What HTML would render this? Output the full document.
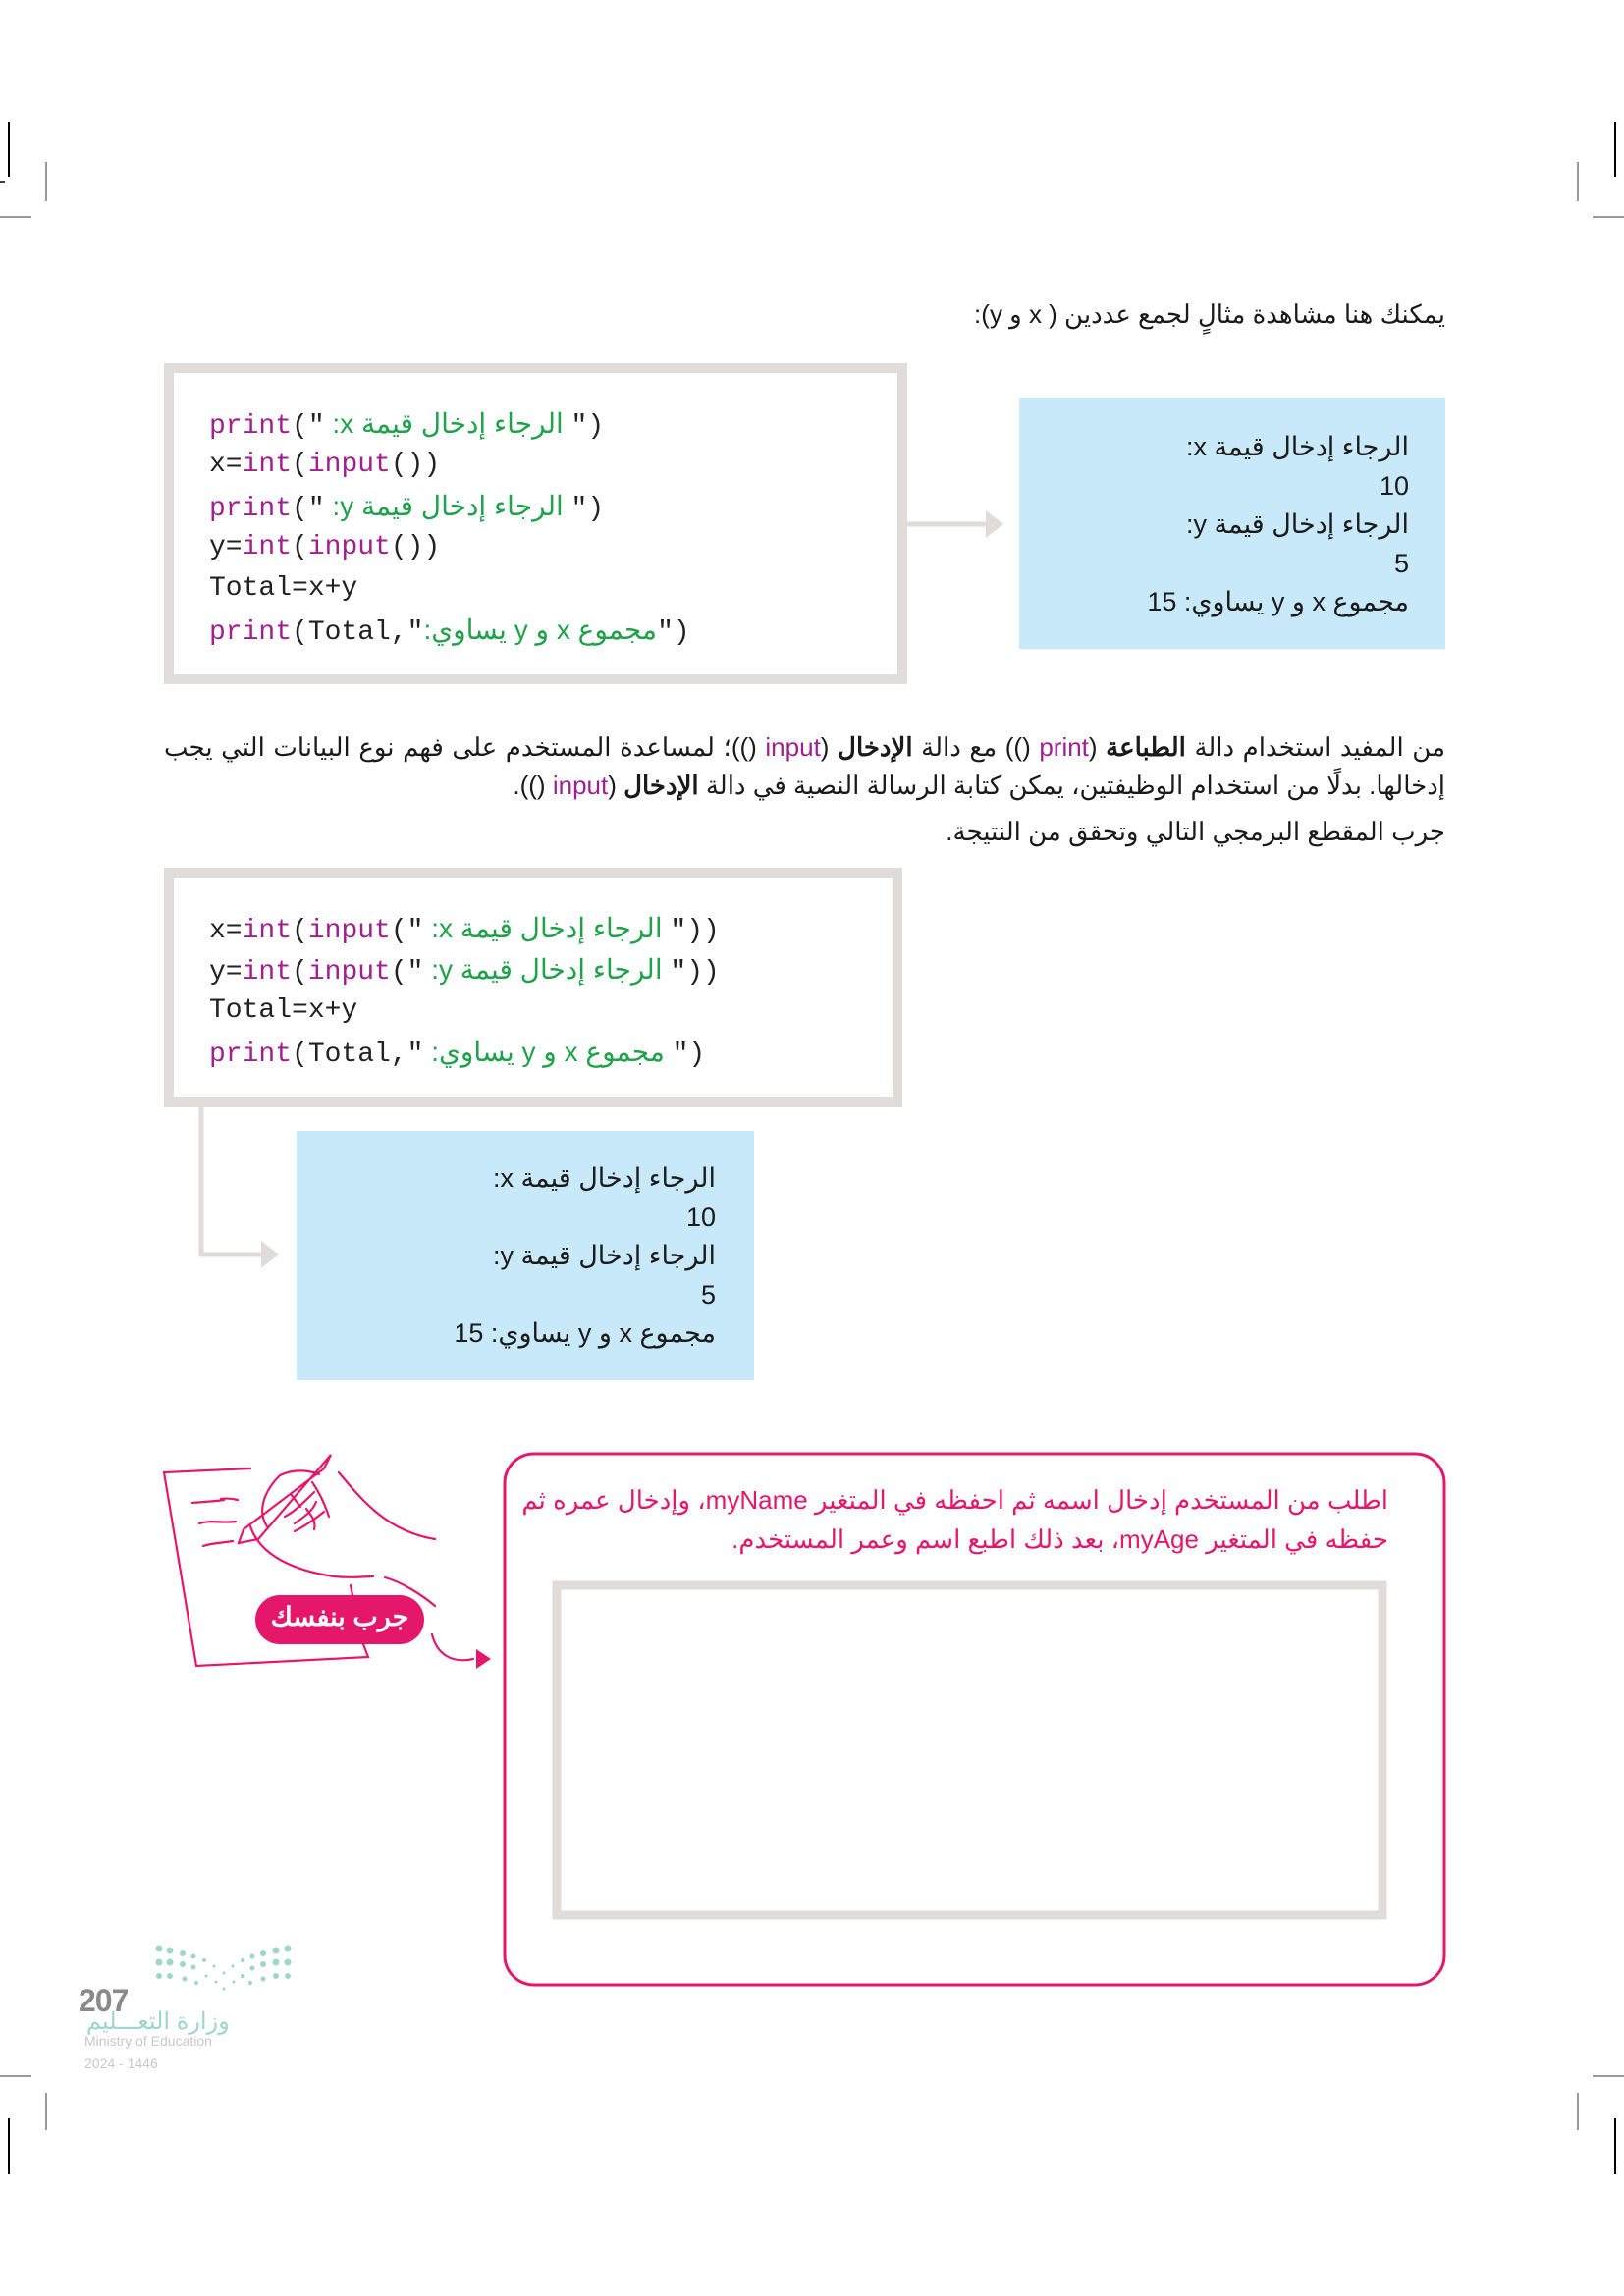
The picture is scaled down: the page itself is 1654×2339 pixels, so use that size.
<!DOCTYPE html>
<html><head><meta charset="utf-8"><style>
body{margin:0;background:#fff}
#p{position:relative;width:1654px;height:2339px;overflow:hidden;font-family:"Liberation Sans","Noto Sans CJK SC",sans-serif}
.t{position:absolute;white-space:nowrap}
.r{direction:rtl;text-align:right}
.code{position:absolute;font-family:"Liberation Mono",monospace;font-size:28px;color:#222}
.code div{height:42px;line-height:42px;overflow:visible;white-space:pre}
.m{color:#a0208f}.g{color:#1fa24a;direction:rtl;unicode-bidi:embed}
.ar{font-family:"Liberation Sans","Noto Sans CJK SC",sans-serif}
.out{position:absolute;direction:rtl;text-align:right;font-size:27px;color:#1a1a1a;line-height:39.5px}
</style></head><body><div id="p">
<svg width="1654" height="2339" style="position:absolute;left:0;top:0">
<line x1="9" y1="124" x2="9" y2="180" stroke="#000" stroke-width="2"/>
<line x1="0" y1="185" x2="5" y2="185" stroke="#000" stroke-width="1.5"/>
<line x1="47" y1="165" x2="47" y2="205" stroke="#999" stroke-width="2"/>
<line x1="0" y1="221" x2="32" y2="221" stroke="#999" stroke-width="2"/>
<line x1="1645" y1="124" x2="1645" y2="180" stroke="#000" stroke-width="2"/>
<line x1="1607" y1="165" x2="1607" y2="205" stroke="#999" stroke-width="2"/>
<line x1="1622" y1="221" x2="1654" y2="221" stroke="#999" stroke-width="2"/>
<line x1="0" y1="2115" x2="32" y2="2115" stroke="#999" stroke-width="2"/>
<line x1="47" y1="2132" x2="47" y2="2170" stroke="#999" stroke-width="2"/>
<line x1="9" y1="2158" x2="9" y2="2215" stroke="#000" stroke-width="2"/>
<line x1="1622" y1="2115" x2="1654" y2="2115" stroke="#999" stroke-width="2"/>
<line x1="1607" y1="2132" x2="1607" y2="2170" stroke="#999" stroke-width="2"/>
<line x1="1645" y1="2158" x2="1645" y2="2215" stroke="#000" stroke-width="2"/>
<rect x="172" y="375" width="747" height="317" fill="#fff" stroke="#e0dcda" stroke-width="10"/>
<line x1="924" y1="534" x2="1008" y2="534" stroke="#e0dcda" stroke-width="5"/>
<polygon points="1004,520 1022,534 1004,548" fill="#e0dcda"/>
<rect x="1038" y="405" width="434" height="256" fill="#c8e9fa"/>
<rect x="172" y="889" width="742" height="234" fill="#fff" stroke="#e0dcda" stroke-width="10"/>
<polyline points="205,1128 205,1278 270,1278" fill="none" stroke="#e0dcda" stroke-width="5"/>
<polygon points="266,1264 284,1278 266,1292" fill="#e0dcda"/>
<rect x="302" y="1152" width="466" height="254" fill="#c8e9fa"/>
<rect x="514" y="1481" width="957" height="541" rx="30" fill="#fff" stroke="#e5176a" stroke-width="3"/>
<rect x="567" y="1615" width="841" height="336" fill="#fff" stroke="#e0dcda" stroke-width="9"/>
<g fill="none" stroke="#e5176a" stroke-width="2.2" stroke-linecap="round">
<polyline points="255,1496 167,1500 200,1697 375,1688 370,1675"/>
<line x1="357" y1="1615" x2="359" y2="1625"/>
<path d="M196,1531 C205,1530 215,1530 228,1528 M225,1527 C232,1526 238,1527 242,1528"/>
<path d="M203,1552 C215,1548 225,1552 240,1550"/>
<path d="M207,1575 C215,1572 225,1572 237,1570"/>
<path d="M337,1482 L263,1568 L243,1572 L248,1558 L330,1496 Z"/>
<path d="M272,1555 C262,1540 268,1520 285,1503 C300,1496 315,1498 325,1502"/>
<path d="M345,1500 C370,1530 395,1560 443,1568"/>
<path d="M255,1555 C265,1585 300,1600 340,1606 C360,1608 370,1606 380,1606"/>
<path d="M392,1607 C410,1612 430,1625 443,1636"/>
<path d="M290,1545 C300,1540 310,1530 320,1520 M300,1552 C310,1545 318,1540 322,1530 M296,1522 L306,1535 M312,1537 C318,1545 322,1550 320,1558"/>
<path d="M300,1560 C310,1555 320,1548 330,1540 M318,1510 C325,1520 330,1530 335,1545"/>
<path d="M440,1665 C445,1685 460,1695 482,1690"/>
</g>
<polygon points="485,1680 500,1690 485,1700" fill="#e5176a"/>
<rect x="260" y="1625" width="172" height="50" rx="25" fill="#e5176a"/>
<g fill="#9fd6cc">
<circle cx="162" cy="1985" r="3.5"/><circle cx="173" cy="1987" r="3.5"/><circle cx="186" cy="1990" r="3"/><circle cx="197" cy="1993" r="2.5"/>
<circle cx="162" cy="1999" r="3.5"/><circle cx="173" cy="1999" r="3.5"/><circle cx="186" cy="2001" r="3"/><circle cx="197" cy="2004" r="2.5"/><circle cx="208" cy="1997" r="2"/><circle cx="218" cy="2003" r="1.5"/>
<circle cx="162" cy="2013" r="3"/><circle cx="173" cy="2013" r="3"/><circle cx="188" cy="2016" r="2.5"/><circle cx="200" cy="2020" r="2"/><circle cx="210" cy="2013" r="1.5"/><circle cx="220" cy="2019" r="1.5"/><circle cx="228" cy="2010" r="1.5"/><circle cx="228" cy="2026" r="1.5"/>
<circle cx="237" cy="2003" r="1.5"/><circle cx="247" cy="1997" r="2"/><circle cx="257" cy="1993" r="2.5"/><circle cx="268" cy="1990" r="3"/><circle cx="281" cy="1987" r="3.5"/><circle cx="293" cy="1985" r="3.5"/>
<circle cx="238" cy="2019" r="1.5"/><circle cx="247" cy="2013" r="2"/><circle cx="257" cy="2005" r="2.5"/><circle cx="268" cy="2001" r="3"/><circle cx="281" cy="1999" r="3.5"/><circle cx="293" cy="1999" r="3.5"/>
<circle cx="255" cy="2020" r="2"/><circle cx="268" cy="2016" r="2.5"/><circle cx="281" cy="2013" r="3"/><circle cx="293" cy="2013" r="3"/>
</g>
</svg>

<div class="t r" style="right:182px;top:305px;font-size:26px;color:#1a1a1a">يمكنك هنا مشاهدة مثالٍ لجمع عددين ( x و y):</div>

<div class="code" style="left:213px;top:411px"><div><span class="m">print</span>("<span class="g ar"> الرجاء إدخال قيمة x: </span>")</div><div>x=<span class="m">int</span>(<span class="m">input</span>())</div><div><span class="m">print</span>("<span class="g ar"> الرجاء إدخال قيمة y: </span>")</div><div>y=<span class="m">int</span>(<span class="m">input</span>())</div><div>Total=x+y</div><div><span class="m">print</span>(Total,"<span class="g ar">مجموع x و y يساوي:</span>")</div></div>

<div class="out" style="right:219px;top:436px">الرجاء إدخال قيمة x:<br>10<br>الرجاء إدخال قيمة y:<br>5<br>مجموع x و y يساوي: 15</div>

<div class="t r" style="right:182px;left:167px;top:742px;font-size:26px;line-height:39px;color:#1a1a1a;white-space:normal;text-align:justify;text-align-last:right">من المفيد استخدام دالة <b>الطباعة</b> (<span style="direction:ltr;unicode-bidi:embed">()</span> <span class="m">print</span>) مع دالة <b>الإدخال</b> (<span style="direction:ltr;unicode-bidi:embed">()</span> <span class="m">input</span>)؛ لمساعدة المستخدم على فهم نوع البيانات التي يجب إدخالها. بدلًا من استخدام الوظيفتين، يمكن كتابة الرسالة النصية في دالة <b>الإدخال</b> (<span style="direction:ltr;unicode-bidi:embed">()</span> <span class="m">input</span>).</div>
<div class="t r" style="right:182px;top:832px;font-size:26px;color:#1a1a1a">جرب المقطع البرمجي التالي وتحقق من النتيجة.</div>

<div class="code" style="left:213px;top:925px"><div>x=<span class="m">int</span>(<span class="m">input</span>("<span class="g ar"> الرجاء إدخال قيمة x: </span>"))</div><div>y=<span class="m">int</span>(<span class="m">input</span>("<span class="g ar"> الرجاء إدخال قيمة y: </span>"))</div><div>Total=x+y</div><div><span class="m">print</span>(Total,"<span class="g ar"> مجموع x و y يساوي: </span>")</div></div>

<div class="out" style="right:925px;top:1181px">الرجاء إدخال قيمة x:<br>10<br>الرجاء إدخال قيمة y:<br>5<br>مجموع x و y يساوي: 15</div>

<div class="t r" style="right:240px;top:1508px;font-size:26px;line-height:40px;color:#e5176a">اطلب من المستخدم إدخال اسمه ثم احفظه في المتغير myName، وإدخال عمره ثم<br>حفظه في المتغير myAge، بعد ذلك اطبع اسم وعمر المستخدم.</div>

<div class="t" style="left:260px;width:172px;top:1632px;text-align:center;font-size:27px;font-weight:bold;color:#fff">جرب بنفسك</div>

<div class="t" style="left:80px;top:2020px;font-size:32px;font-weight:bold;color:#8a8a8a;letter-spacing:-1px">207</div>
<div class="t" style="left:88px;top:2045px;font-size:24px;color:#9fd6cc">وزارة التعـــليم</div>
<div class="t" style="left:86px;top:2071px;font-size:14px;color:#c8c8c8">Ministry of Education</div>
<div class="t" style="left:86px;top:2094px;font-size:14px;color:#c8c8c8">2024 - 1446</div>
</div></body></html>
